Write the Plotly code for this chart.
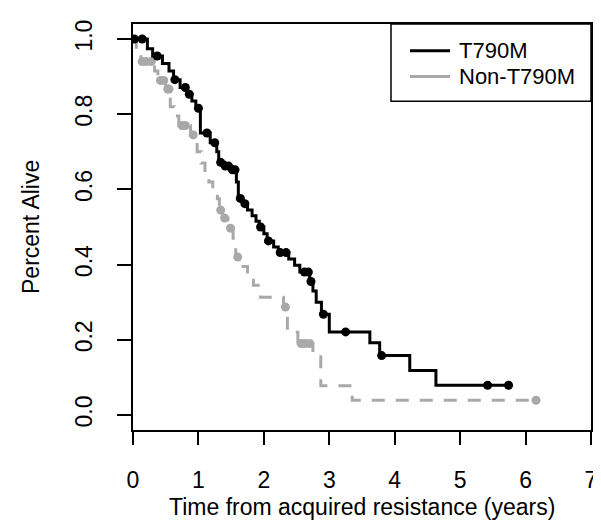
import numpy as np
import plotly.graph_objects as go

# T790M Kaplan-Meier steps (time in years, survival)
t790m_time = [0, 0.22, 0.30, 0.45, 0.55, 0.62, 0.72, 0.83, 0.90, 0.96, 1.03, 1.18, 1.28, 1.31,
              1.40, 1.50, 1.58, 1.61, 1.68, 1.75, 1.82, 1.88, 1.93, 2.00, 2.05, 2.15, 2.22,
              2.38, 2.47, 2.55, 2.70, 2.75, 2.80, 2.88, 3.00, 3.62, 3.77, 4.23, 4.63, 5.74]
t790m_surv = [1.0, 0.974, 0.955, 0.935, 0.915, 0.892, 0.871, 0.853, 0.835, 0.816, 0.75, 0.724,
              0.70, 0.672, 0.662, 0.652, 0.62, 0.576, 0.562, 0.545, 0.530, 0.515, 0.500, 0.482,
              0.463, 0.447, 0.432, 0.415, 0.398, 0.380, 0.355, 0.33, 0.30, 0.268, 0.221, 0.192,
              0.158, 0.118, 0.079, 0.079]
t790m_censor = [0.02, 0.14, 0.37, 0.64, 0.80, 0.86, 1.00, 1.13, 1.25, 1.34, 1.41, 1.46, 1.52,
                1.56, 1.64, 1.71, 1.95, 2.07, 2.25, 2.34, 2.62, 2.68, 2.72, 2.91, 3.25, 3.80,
                5.42, 5.74]

# Non-T790M Kaplan-Meier steps
non_time = [0, 0.05, 0.12, 0.33, 0.38, 0.50, 0.57, 0.63, 0.70, 0.88, 0.98, 1.04, 1.10, 1.16,
            1.22, 1.29, 1.32, 1.37, 1.45, 1.53, 1.57, 1.63, 1.75, 1.84, 1.95, 2.30, 2.36,
            2.52, 2.75, 2.87, 3.35, 6.16]
non_surv = [1.0, 0.963, 0.94, 0.915, 0.89, 0.867, 0.82, 0.795, 0.77, 0.745, 0.70, 0.67, 0.645,
            0.62, 0.60, 0.575, 0.545, 0.524, 0.497, 0.47, 0.42, 0.395, 0.37, 0.345, 0.313,
            0.287, 0.22, 0.19, 0.155, 0.078, 0.039, 0.039]
non_censor = [0.14, 0.20, 0.28, 0.42, 0.47, 0.53, 0.55, 0.75, 0.80, 0.92, 1.34, 1.40, 1.49,
              1.60, 2.33, 2.57, 2.63, 2.70, 6.16]

series_names = ["T790M", "Non-T790M"]
x_ticks = [0, 1, 2, 3, 4, 5, 6, 7]
y_ticks = [0.0, 0.2, 0.4, 0.6, 0.8, 1.0]


def level_at(times, surv, pts):
    idx = np.searchsorted(np.array(times), np.array(pts), side="right") - 1
    return [surv[i] for i in idx]


BLACK = "#000000"
GRAY = "#a9a9a9"
FONT = "Liberation Sans, Arial, sans-serif"
FS = 23

# plot area in pixels
W, H = 601, 532
L, R, T, B = 125, 18, 12, 110
PW, PH = W - L - R, H - T - B


def px(x):
    return (x - L) / PW


def py(y):
    return (H - B - y) / PH


fig = go.Figure()
fig.add_trace(go.Scatter(x=non_time, y=non_surv, mode="lines", line_shape="hv",
                         line=dict(color=GRAY, width=3, dash="13px,11px"),
                         showlegend=False, hoverinfo="skip"))
fig.add_trace(go.Scatter(x=non_censor, y=level_at(non_time, non_surv, non_censor),
                         mode="markers", marker=dict(color=GRAY, size=9),
                         showlegend=False))
fig.add_trace(go.Scatter(x=t790m_time, y=t790m_surv, mode="lines", line_shape="hv",
                         line=dict(color=BLACK, width=3), showlegend=False, hoverinfo="skip"))
fig.add_trace(go.Scatter(x=t790m_censor, y=level_at(t790m_time, t790m_surv, t790m_censor),
                         mode="markers", marker=dict(color=BLACK, size=9),
                         showlegend=False))

# manual R-style legend box
shapes = [dict(type="rect", xref="paper", yref="paper",
               x0=px(383), x1=px(583), y0=py(90), y1=py(12),
               line=dict(color="black", width=1.5), fillcolor="white", layer="above")]
annotations = []
for i, (name, col) in enumerate(zip(series_names, [BLACK, GRAY])):
    yy = 39 + 26 * i
    shapes.append(dict(type="line", xref="paper", yref="paper",
                       x0=px(402), x1=px(442), y0=py(yy), y1=py(yy),
                       line=dict(color=col, width=3), layer="above"))
    annotations.append(dict(text=name, xref="paper", yref="paper", x=px(449), y=py(yy),
                            xanchor="left", yanchor="middle", showarrow=False,
                            font=dict(size=22, color="black", family=FONT)))

annotations.append(dict(text="Time from acquired resistance (years)", xref="paper",
                        yref="paper", x=0.5, y=py(500), xanchor="center", yanchor="middle",
                        showarrow=False, font=dict(size=FS, color="black", family=FONT)))
annotations.append(dict(text="Percent Alive", xref="paper", yref="paper", x=px(23),
                        y=py(217), xanchor="center", yanchor="middle", textangle=-90,
                        showarrow=False, font=dict(size=FS, color="black", family=FONT)))

fig.update_layout(
    width=W, height=H,
    margin=dict(l=L, r=R, t=T, b=B),
    paper_bgcolor="white", plot_bgcolor="white",
    font=dict(family=FONT, size=FS, color="black"),
    showlegend=False,
    shapes=shapes, annotations=annotations,
)
fig.update_xaxes(range=[0, 7], tickvals=x_ticks, ticktext=[str(v) for v in x_ticks],
                 showline=True, mirror=True, linecolor="black", linewidth=1.5,
                 ticks="outside", ticklen=13, tickwidth=1.5, tickcolor="black",
                 showgrid=False, zeroline=False, ticklabelstandoff=16)
fig.update_yaxes(range=[-0.04, 1.04], tickvals=y_ticks, ticktext=[f"{v:.1f}" for v in y_ticks],
                 tickangle=-90,
                 showline=True, mirror=True, linecolor="black", linewidth=1.5,
                 ticks="outside", ticklen=14, tickwidth=1.5, tickcolor="black",
                 showgrid=False, zeroline=False, ticklabelstandoff=16)

fig.write_html("out.html")
